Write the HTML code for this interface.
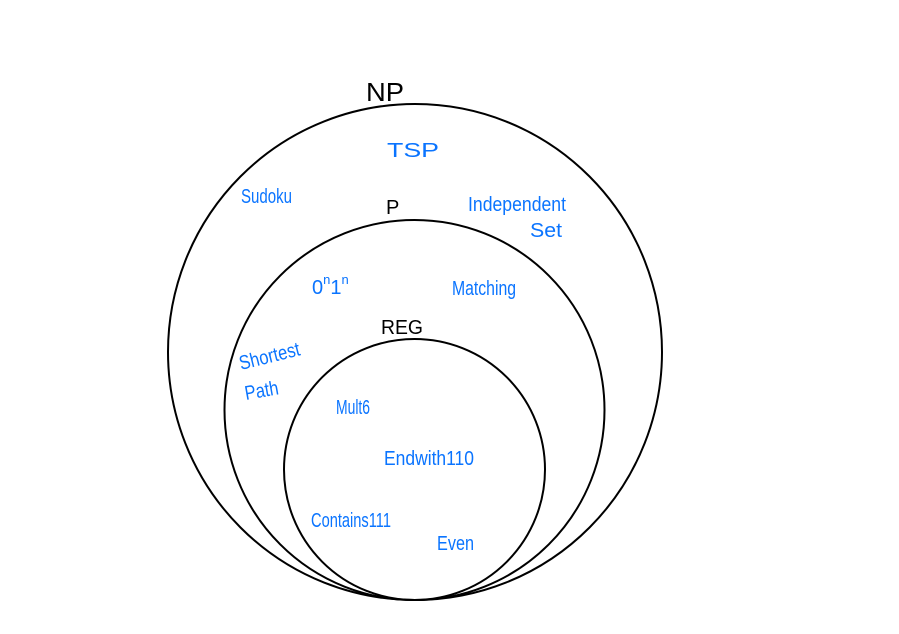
<!DOCTYPE html>
<html><head><style>
html,body{margin:0;padding:0;background:#fff;width:899px;height:634px;overflow:hidden}
svg text{font-family:"Liberation Sans",sans-serif}
.b{fill:#0a74ff;font-size:20px}
.k{fill:#000}
</style></head><body>
<svg width="899" height="634" xmlns="http://www.w3.org/2000/svg">
<g fill="none" stroke="#000" stroke-width="2">
<ellipse cx="415" cy="352" rx="247" ry="248"/>
<circle cx="414.5" cy="410" r="190"/>
<circle cx="414.5" cy="469.5" r="130.5"/>
</g>
<text class="k" x="366" y="101" font-size="26" textLength="38" lengthAdjust="spacingAndGlyphs">NP</text>
<text class="k" x="386" y="214" font-size="20">P</text>
<text class="k" x="381" y="334" font-size="20" textLength="42" lengthAdjust="spacingAndGlyphs">REG</text>
<text class="b" x="387" y="157" font-size="26" textLength="52" lengthAdjust="spacingAndGlyphs">TSP</text>
<text class="b" x="241" y="203" textLength="51" lengthAdjust="spacingAndGlyphs">Sudoku</text>
<text class="b" x="468" y="211" textLength="98" lengthAdjust="spacingAndGlyphs">Independent</text>
<text class="b" x="530" y="237" textLength="32" lengthAdjust="spacingAndGlyphs">Set</text>
<text class="b" x="312" y="294" font-size="22">0<tspan font-size="13" dy="-10">n</tspan><tspan dy="10">1</tspan><tspan font-size="13" dy="-10">n</tspan></text>
<text class="b" x="452" y="295" textLength="64" lengthAdjust="spacingAndGlyphs">Matching</text>
<text class="b" x="241" y="370" textLength="62" lengthAdjust="spacingAndGlyphs" transform="rotate(-14 241 370)">Shortest</text>
<text class="b" x="246" y="400" textLength="34" lengthAdjust="spacingAndGlyphs" transform="rotate(-10 246 400)">Path</text>
<text class="b" x="336" y="414" textLength="34" lengthAdjust="spacingAndGlyphs">Mult6</text>
<text class="b" x="384" y="465" textLength="90" lengthAdjust="spacingAndGlyphs">Endwith110</text>
<text class="b" x="311" y="527" textLength="80" lengthAdjust="spacingAndGlyphs">Contains111</text>
<text class="b" x="437" y="550" textLength="37" lengthAdjust="spacingAndGlyphs">Even</text>
</svg>
</body></html>
